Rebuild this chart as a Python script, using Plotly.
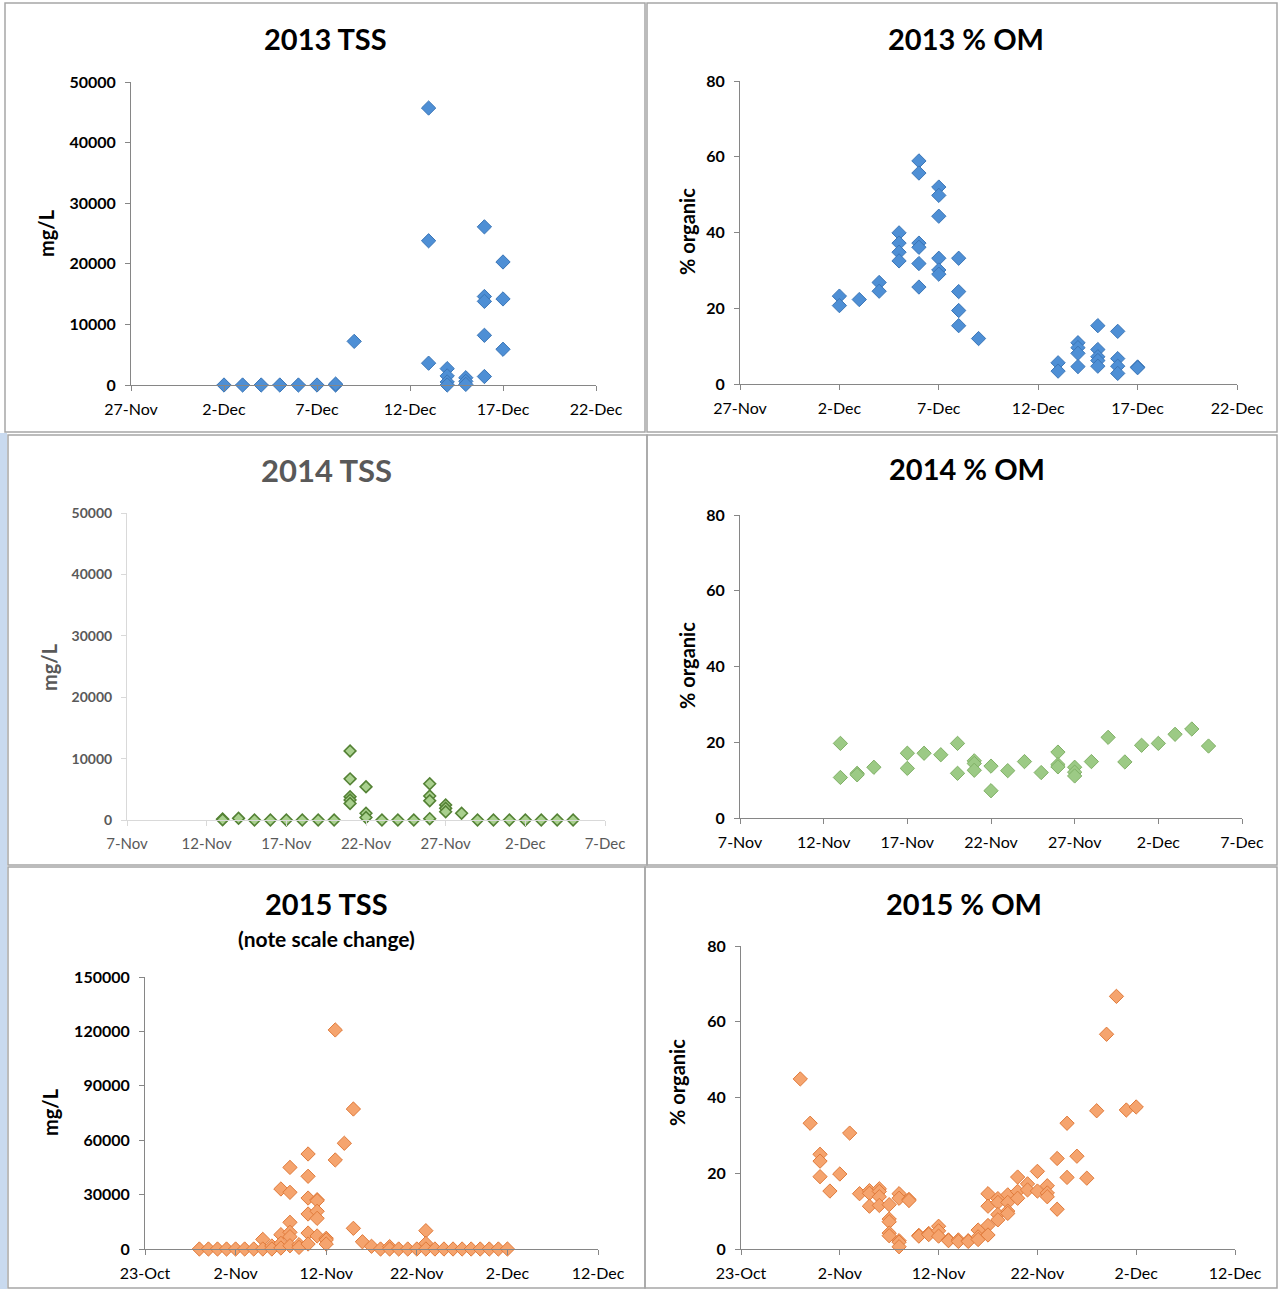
import plotly.graph_objects as go

W, H = 1278, 1289

# ---------------- data ----------------
# 2013 total suspended solids (mg/L)
tss13_dates = (["2013-12-02", "2013-12-03", "2013-12-04", "2013-12-05", "2013-12-06",
                "2013-12-07", "2013-12-08", "2013-12-08", "2013-12-09"]
               + ["2013-12-13"] * 3 + ["2013-12-14"] * 4 + ["2013-12-15"] * 3
               + ["2013-12-16"] * 5 + ["2013-12-17"] * 3)
tss13_mgL = [0, 0, 0, 0, 0, 0, 0, 150, 7200,
             45700, 23800, 3600,
             2700, 1500, 500, 0,
             1200, 600, 100,
             26100, 14600, 13800, 8200, 1400,
             20300, 14200, 5900]

# 2013 organic matter (%)
om13_dates = (["2013-12-02"] * 2 + ["2013-12-03"] + ["2013-12-04"] * 2 + ["2013-12-05"] * 4
              + ["2013-12-06"] * 6 + ["2013-12-07"] * 6 + ["2013-12-08"] * 4 + ["2013-12-09"]
              + ["2013-12-13"] * 2 + ["2013-12-14"] * 4 + ["2013-12-15"] * 5
              + ["2013-12-16"] * 4 + ["2013-12-17"] * 2)
om13_pct = [23.2, 20.7,
            22.3,
            26.8, 24.5,
            39.9, 37.2, 34.8, 32.5,
            58.9, 55.7, 37.2, 36.1, 31.8, 25.6,
            52.0, 49.8, 44.3, 33.2, 30.1, 29.0,
            33.2, 24.4, 19.4, 15.4,
            12.0,
            5.6, 3.4,
            10.9, 9.6, 8.1, 4.6,
            15.4, 9.1, 7.2, 6.2, 4.7,
            13.9, 6.7, 4.7, 2.8,
            4.5, 4.3]

# 2014 total suspended solids (mg/L)
tss14_dates = (["2014-11-13"] * 2 + ["2014-11-14", "2014-11-15", "2014-11-16", "2014-11-17",
                                     "2014-11-18", "2014-11-19", "2014-11-20"]
               + ["2014-11-21"] * 5 + ["2014-11-22"] * 3
               + ["2014-11-23", "2014-11-24", "2014-11-25"]
               + ["2014-11-26"] * 4 + ["2014-11-27"] * 3 + ["2014-11-28"]
               + ["2014-11-29", "2014-11-30", "2014-12-01", "2014-12-02",
                  "2014-12-03", "2014-12-04", "2014-12-05"])
tss14_mgL = [150, 50, 270, 0, 0, 0, 0, 0, 0,
             11250, 6700, 3800, 3250, 2700,
             5400, 1100, 400,
             0, 0, 0,
             5900, 3900, 3150, 220,
             2450, 1900, 1350,
             1100,
             0, 0, 0, 0, 0, 0, 0]

# 2014 organic matter (%)
om14_dates = (["2014-11-13"] * 2 + ["2014-11-14"] * 2 + ["2014-11-15"] + ["2014-11-17"] * 2
              + ["2014-11-18", "2014-11-19"] + ["2014-11-20"] * 2 + ["2014-11-21"] * 3
              + ["2014-11-22"] * 2 + ["2014-11-23", "2014-11-24", "2014-11-25"]
              + ["2014-11-26"] * 3 + ["2014-11-27"] * 3
              + ["2014-11-28", "2014-11-29", "2014-11-30", "2014-12-01",
                 "2014-12-02", "2014-12-03", "2014-12-04", "2014-12-05"])
om14_pct = [19.7, 10.7,
            11.8, 11.4,
            13.4,
            17.1, 13.1,
            17.1, 16.7,
            19.7, 11.8,
            15.1, 14.4, 12.6,
            13.7, 7.2,
            12.5, 14.9, 12.0,
            17.4, 14.1, 13.5,
            13.4, 12.1, 11.1,
            14.9, 21.3, 14.8, 19.2, 19.7, 22.1, 23.5, 19.0]

# 2015 total suspended solids (mg/L)
tss15_dates = (["2015-10-29", "2015-10-30", "2015-10-31", "2015-11-01",
                "2015-11-02", "2015-11-03", "2015-11-04"]
               + ["2015-11-05"] * 2 + ["2015-11-06"] * 2 + ["2015-11-07"] * 4
               + ["2015-11-08"] * 6 + ["2015-11-09"] * 2 + ["2015-11-10"] * 6
               + ["2015-11-11"] * 5 + ["2015-11-12"] * 3 + ["2015-11-13"] * 2
               + ["2015-11-14"] + ["2015-11-15"] * 2 + ["2015-11-16", "2015-11-17", "2015-11-18"]
               + ["2015-11-19"] * 2 + ["2015-11-20", "2015-11-21", "2015-11-22"]
               + ["2015-11-23"] * 3
               + ["2015-11-24", "2015-11-25", "2015-11-26", "2015-11-27", "2015-11-28",
                  "2015-11-29", "2015-11-30", "2015-12-01", "2015-12-02"])
tss15_mgL = [0, 0, 0, 0, 0, 0, 0,
             5300, 0,
             1650, 0,
             33100, 7900, 3100, 550,
             45000, 31250, 14700, 9200, 6800, 1800,
             2400, 900,
             52400, 40100, 28100, 19300, 8800, 2750,
             27200, 26650, 20800, 16900, 7200,
             5900, 5000, 2750,
             120800, 49100,
             58300,
             77200, 11400,
             4000, 1500, 0,
             1300, 0,
             0, 0, 0,
             10100, 3100, 0,
             0, 0, 0, 0, 0, 0, 0, 0, 0]

# 2015 organic matter (%)
om15_dates = (["2015-10-29", "2015-10-30"] + ["2015-10-31"] * 3 + ["2015-11-01", "2015-11-02",
                                                                   "2015-11-03", "2015-11-04"]
              + ["2015-11-05"] * 3 + ["2015-11-06"] * 4 + ["2015-11-07"] * 5
              + ["2015-11-08"] * 5 + ["2015-11-09"] * 2 + ["2015-11-10"] * 2
              + ["2015-11-11"] * 2 + ["2015-11-12"] * 3 + ["2015-11-13"] * 2
              + ["2015-11-14"] * 2 + ["2015-11-15"] * 2 + ["2015-11-16"] * 3
              + ["2015-11-17"] * 4 + ["2015-11-18"] * 4 + ["2015-11-19"] * 4
              + ["2015-11-20"] * 3 + ["2015-11-21"] * 2 + ["2015-11-22"] * 2
              + ["2015-11-23"] * 3 + ["2015-11-24"] * 2 + ["2015-11-25"] * 2
              + ["2015-11-26", "2015-11-27", "2015-11-28", "2015-11-29",
                 "2015-11-30", "2015-12-01", "2015-12-02"])
om15_pct = [44.9, 33.2,
            25.0, 23.2, 19.1,
            15.3, 19.8, 30.6, 14.6,
            15.4, 14.7, 11.3,
            15.9, 15.2, 13.8, 11.5,
            11.7, 7.9, 7.2, 4.2, 3.5,
            14.6, 13.4, 2.2, 1.8, 0.6,
            13.1, 12.8,
            3.6, 3.4,
            4.1, 3.8,
            6.0, 4.8, 3.4,
            2.4, 2.2,
            2.4, 2.0,
            2.2, 2.0,
            5.0, 3.2, 2.5,
            14.6, 11.3, 6.2, 3.7,
            13.3, 12.3, 9.1, 7.7,
            14.3, 12.3, 10.0, 9.4,
            19.0, 15.2, 13.4,
            17.2, 15.6,
            20.5, 15.3,
            16.7, 14.8, 13.8,
            23.9, 10.5,
            33.2, 18.9,
            24.5, 18.7, 36.5, 56.7, 66.7, 36.7, 37.5]

tss_ticks = [0, 10000, 20000, 30000, 40000, 50000]
tss15_ticks = [0, 30000, 60000, 90000, 120000, 150000]
om_ticks = [0, 20, 40, 60, 80]

# ---------------- styling helpers ----------------
FONT = "Lato"
DAY_MS = 86400000


def xdom(x0, x1):
    return [x0 / W, x1 / W]


def ydom(ytop, ybot):
    return [1 - ybot / H, 1 - ytop / H]


def date_axis(dom, anchor, start, end, step_days=5, line_color="#868686",
              tick_color="#000000", size=16):
    return dict(domain=dom, anchor=anchor, type="date", range=[start, end],
                tick0=start, dtick=step_days * DAY_MS, tickformat="%-d-%b", tickangle=0,
                showline=True, linecolor=line_color, linewidth=1,
                ticks="outside", ticklen=5, tickcolor=line_color,
                showgrid=False, zeroline=False, ticklabelstandoff=5, automargin=False,
                tickfont=dict(family=FONT, size=size, color=tick_color))


def value_axis(dom, anchor, ticks, line_color="#868686", tick_color="#000000",
               weight="bold", size=16):
    return dict(domain=dom, anchor=anchor, range=[ticks[0], ticks[-1]],
                tickmode="array", tickvals=ticks, ticktext=[str(t) for t in ticks],
                showline=True, linecolor=line_color, linewidth=1,
                ticks="outside", ticklen=5, tickcolor=line_color,
                showgrid=False, zeroline=False, ticklabelstandoff=6, automargin=False,
                tickfont=dict(family=FONT, size=size, color=tick_color, weight=weight))


def diamonds(x, y, xa, ya, fill, edge, size=11, edge_w=1):
    return go.Scatter(x=x, y=y, xaxis=xa, yaxis=ya, mode="markers", cliponaxis=False,
                      showlegend=False, hoverinfo="x+y",
                      marker=dict(symbol="diamond", size=size, color=fill,
                                  line=dict(color=edge, width=edge_w)))


BLUE, BLUE_EDGE = "#4e8fd5", "#3b76b7"
GREEN_D, GREEN_D_EDGE = "#a9d08e", "#548235"
GREEN_L, GREEN_L_EDGE = "#9cca85", "#80b066"
ORANGE, ORANGE_EDGE = "#f5a46e", "#e07a3a"

fig = go.Figure()
fig.add_trace(diamonds(tss13_dates, tss13_mgL, "x", "y", BLUE, BLUE_EDGE))
fig.add_trace(diamonds(om13_dates, om13_pct, "x2", "y2", BLUE, BLUE_EDGE))
fig.add_trace(diamonds(tss14_dates, tss14_mgL, "x3", "y3", GREEN_D, GREEN_D_EDGE, size=9, edge_w=1.6))
fig.add_trace(diamonds(om14_dates, om14_pct, "x4", "y4", GREEN_L, GREEN_L_EDGE))
fig.add_trace(diamonds(tss15_dates, tss15_mgL, "x5", "y5", ORANGE, ORANGE_EDGE))
fig.add_trace(diamonds(om15_dates, om15_pct, "x6", "y6", ORANGE, ORANGE_EDGE))

GRAY_TXT = "#595959"
LIGHT_LINE = "#d9d9d9"

layout = dict(
    width=W, height=H, margin=dict(l=0, r=0, t=0, b=0, autoexpand=False),
    paper_bgcolor="white", plot_bgcolor="white", showlegend=False,
    xaxis=date_axis(xdom(131, 596), "y", "2013-11-27", "2013-12-22"),
    yaxis=value_axis(ydom(82, 385), "x", tss_ticks),
    xaxis2=date_axis(xdom(740, 1237), "y2", "2013-11-27", "2013-12-22"),
    yaxis2=value_axis(ydom(81, 384), "x2", om_ticks),
    xaxis3=date_axis(xdom(127, 605), "y3", "2014-11-07", "2014-12-07",
                     line_color=LIGHT_LINE, tick_color=GRAY_TXT, size=15),
    yaxis3=value_axis(ydom(513, 820), "x3", tss_ticks, line_color=LIGHT_LINE,
                      tick_color=GRAY_TXT, weight="bold", size=14),
    xaxis4=date_axis(xdom(740, 1242), "y4", "2014-11-07", "2014-12-07"),
    yaxis4=value_axis(ydom(515, 818), "x4", om_ticks),
    xaxis5=date_axis(xdom(145, 598), "y5", "2015-10-23", "2015-12-12", step_days=10),
    yaxis5=value_axis(ydom(977, 1249), "x5", tss15_ticks),
    xaxis6=date_axis(xdom(741, 1235), "y6", "2015-10-23", "2015-12-12", step_days=10),
    yaxis6=value_axis(ydom(946, 1249), "x6", om_ticks),
)
fig.update_layout(**layout)


def ann(text, x, y, size, color="#000000", weight="bold", angle=0):
    return dict(text=text, x=x / W, y=1 - y / H, xref="paper", yref="paper",
                xanchor="center", yanchor="middle", showarrow=False, textangle=angle,
                font=dict(family=FONT, size=size, color=color, weight=weight))


annotations = [
    ann("2013 TSS", 325, 38, 29),
    ann("2013 % OM", 966, 38, 29),
    ann("2014 TSS", 327, 470, 31, color=GRAY_TXT),
    ann("2014 % OM", 967, 468, 29),
    ann("2015 TSS", 327, 903, 29),
    ann("(note scale change)", 327, 938, 21),
    ann("2015 % OM", 964, 903, 29),
    ann("mg/L", 46, 233, 20, angle=-90),
    ann("% organic", 687, 232, 20, angle=-90),
    ann("mg/L", 49, 667, 20, color=GRAY_TXT, angle=-90),
    ann("% organic", 687, 666, 20, angle=-90),
    ann("mg/L", 50, 1112, 20, angle=-90),
    ann("% organic", 677, 1083, 20, angle=-90),
]
fig.update_layout(annotations=annotations)

# chart frames
frames = [(5, 3, 645, 432), (647, 3, 1277, 432),
          (8, 435, 647, 865), (647, 435, 1277, 865),
          (8, 867, 645, 1288), (645, 867, 1277, 1288)]
shapes = [dict(type="rect", xref="paper", yref="paper", x0=0, x1=7 / W, y0=0, y1=1 - 433 / H,
               fillcolor="#c9daef", line=dict(width=0), layer="below")]
for x0, y0, x1, y1 in frames:
    shapes.append(dict(type="rect", xref="paper", yref="paper",
                       x0=x0 / W, x1=x1 / W, y0=1 - y1 / H, y1=1 - y0 / H,
                       line=dict(color="#a6a6a6", width=1.5), fillcolor="rgba(0,0,0,0)",
                       layer="below"))
fig.update_layout(shapes=shapes)

fig.write_html("out.html")
